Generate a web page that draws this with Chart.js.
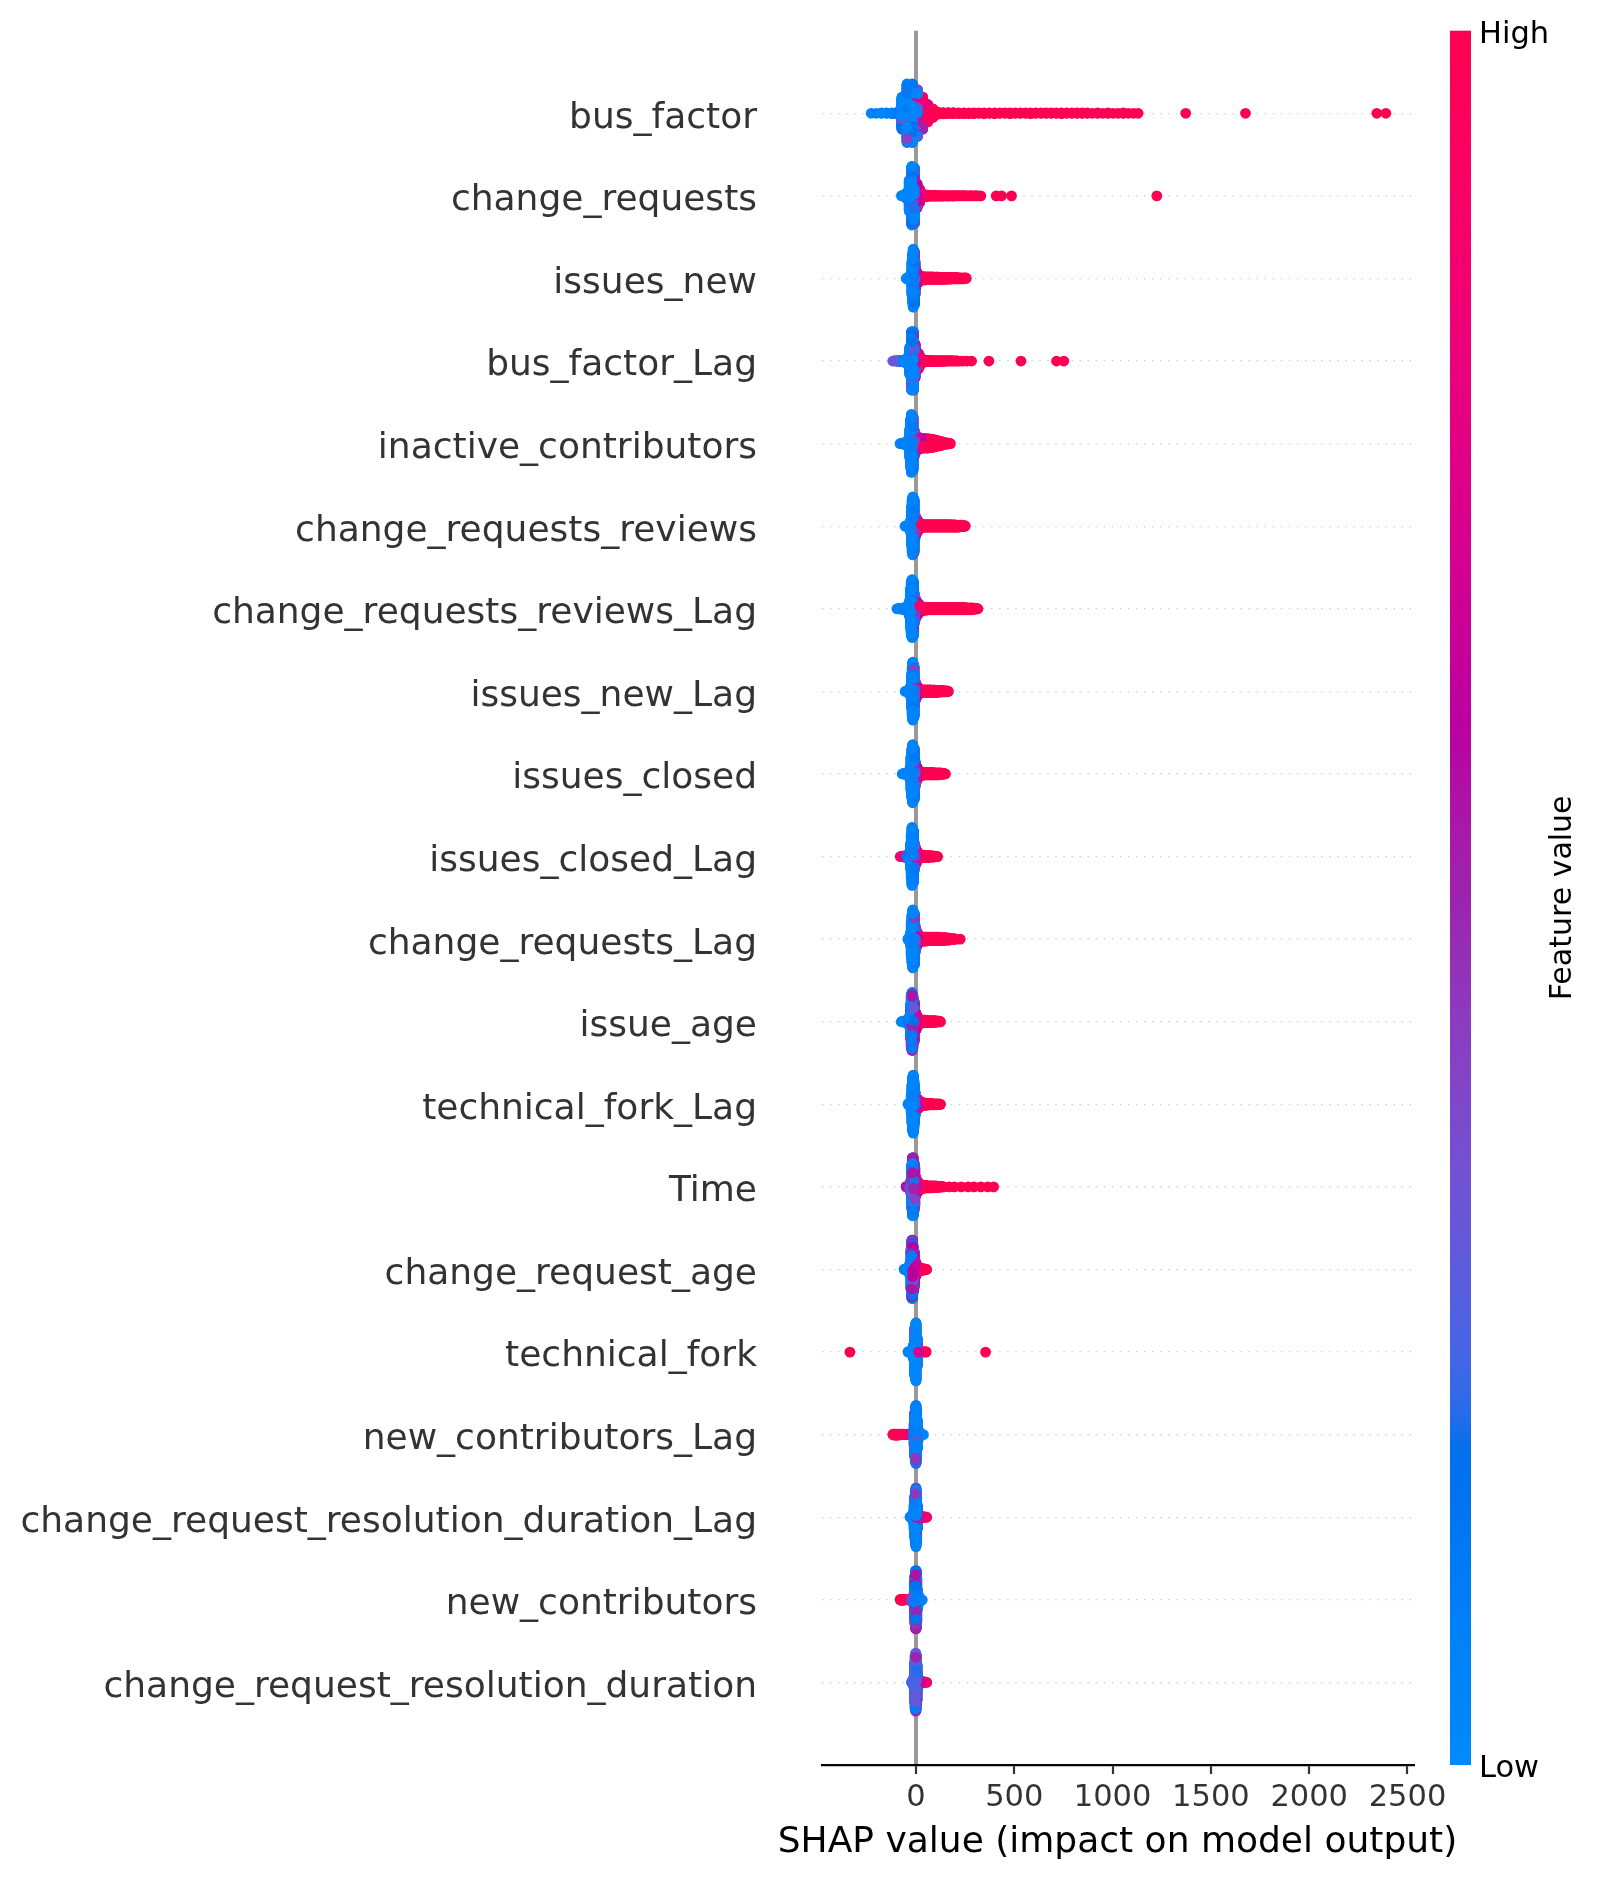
<!DOCTYPE html>
<html><head><meta charset="utf-8">
<script src="https://cdn.jsdelivr.net/npm/chart.js@4.4.1/dist/chart.umd.min.js"></script>
<style>html,body{margin:0;padding:0;background:#fff;}#wrap{width:1603px;height:1878px;}</style>
</head><body><div id="wrap"><canvas id="c" width="1603" height="1878"></canvas></div>
<script>
// ---------------- DATA ----------------
const features = ["bus_factor","change_requests","issues_new","bus_factor_Lag","inactive_contributors",
 "change_requests_reviews","change_requests_reviews_Lag","issues_new_Lag","issues_closed","issues_closed_Lag",
 "change_requests_Lag","issue_age","technical_fork_Lag","Time","change_request_age","technical_fork",
 "new_contributors_Lag","change_request_resolution_duration_Lag","new_contributors","change_request_resolution_duration"];
const xTicks = [0,500,1000,1500,2000,2500];
const xMin = -478, xMax = 2528;
const xTitle = "SHAP value (impact on model output)";
const cbarHigh = "High", cbarLow = "Low", cbarTitle = "Feature value";
// entries: [SHAP value, feature value (0 = low, 1 = high), number of samples]
const bus_factor = [[-228,0.05,1],[-202,0.08,1],[-176,0.05,2],[-150,0.1,2],[-123,0.06,3],[-97,0.1,6],
 [-71,0.03,70],[-71,0.15,30],[-71,0.35,10],[-45,0.02,120],[-45,0.12,60],[-45,0.4,20],
 [-19,0.03,110],[-19,0.15,60],[-19,0.45,30],[8,0.05,70],[8,0.3,40],[8,0.55,30],[8,0.75,20],
 [34,0.5,30],[34,0.7,40],[34,0.9,40],[60,0.75,20],[60,0.95,40],[86,0.9,10],[86,1,20],
 [112,1,8],[138,1,5],[164,1,4],[190,1,4],[217,1,3],[243,1,3],[269,1,3],[295,1,3],[321,1,2],[347,1,3],[374,1,2],
 [400,1,3],[426,1,2],[452,1,2],[478,1,3],[505,1,2],[531,1,2],[557,1,2],[583,1,3],[609,1,2],[636,1,2],[662,1,2],
 [688,1,2],[714,1,2],[740,1,3],[766,1,2],[793,1,2],[819,1,2],[845,1,2],[871,1,2],[897,1,1],[924,1,2],[950,1,1],
 [976,1,2],[1002,1,1],[1028,1,1],[1055,1,2],[1081,1,1],[1107,1,1],[1130,1,1],
 [1372,1,1],[1676,1,1],[2344,1,1],[2390,1,1]];
const change_requests = [[-73,0.05,2],[-60,0.05,6],[-47,0.05,20],[-34,0.03,80],[-34,0.2,20],
 [-21,0.03,120],[-21,0.15,50],[-21,0.4,20],[-8,0.05,100],[-8,0.2,50],[-8,0.5,30],
 [5,0.4,30],[5,0.6,30],[5,0.8,20],[18,0.7,20],[18,0.9,25],[31,0.95,15],[44,1,8],[57,1,5],[70,1,4],[83,1,3],
 [96,1,4],[109,1,3],[122,1,3],[135,1,3],[148,1,2],[161,1,3],[174,1,2],[187,1,3],[200,1,2],[213,1,2],[226,1,2],
 [239,1,2],[252,1,2],[265,1,1],[278,1,2],[291,1,1],[304,1,2],[317,1,1],[330,1,1],
 [408,1,1],[435,1,1],[486,1,1],[1225,1,1]];
const issues_new = [[-50,0.05,1],[-44,0.05,3],[-38,0.05,5],[-32,0.08,8],[-26,0.05,20],
 [-20,0.03,70],[-17,0.05,100],[-14,0.05,120],[-11,0.1,110],[-8,0.15,90],[-8,0.45,20],
 [-5,0.3,50],[-5,0.55,20],[-2,0.5,40],[1,0.6,30],[4,0.7,25],[8,0.75,20],[12,0.85,15],[16,0.9,12],
 [20,1,10],[26,1,9],[32,1,8],[40,1,7],[48,1,7],[56,1,6],[64,1,6],[72,1,6],[80,1,6],[90,1,6],[100,1,5],
 [110,1,6],[120,1,5],[130,1,5],[140,1,5],[150,1,5],[160,1,4],[170,1,5],[180,1,4],[190,1,4],[200,1,4],
 [210,1,4],[220,1,3],[230,1,3],[240,1,3],[250,1,2],[255,1,2]];
const bus_factor_Lag = [[-118,0.35,1],[-109,0.3,2],[-100,0.3,2],[-92,0.2,3],[-83,0.15,3],[-74,0.1,4],[-66,0.05,5],
 [-57,0.05,7],[-48,0.05,12],[-40,0.05,25],[-31,0.03,60],[-31,0.2,20],[-22,0.03,110],[-22,0.15,40],[-22,0.4,20],
 [-13,0.05,100],[-13,0.25,40],[-13,0.5,30],[-5,0.2,50],[-5,0.5,30],[-5,0.65,20],[4,0.45,25],[4,0.7,30],
 [13,0.75,25],[13,0.9,20],[22,0.9,15],[22,1,10],[30,1,10],[39,1,6],[48,1,5],[57,1,4],[65,1,4],[74,1,4],
 [83,1,3],[92,1,3],[100,1,3],[109,1,3],[118,1,3],[127,1,3],[135,1,2],[144,1,3],[153,1,2],[162,1,2],[170,1,2],
 [179,1,2],[188,1,2],[197,1,1],[205,1,2],[214,1,1],[225,1,1],[240,1,1],[260,1,1],[283,1,1],
 [371,1,1],[534,1,1],[715,1,1],[752,1,1]];
const inactive_contributors = [[-81,0.05,1],[-74,0.05,2],[-66,0.1,3],[-58,0.05,4],[-50,0.08,6],[-43,0.05,10],
 [-37,0.05,20],[-31,0.03,60],[-27,0.03,100],[-23,0.05,120],[-19,0.08,110],[-15,0.12,90],[-15,0.4,20],
 [-11,0.25,60],[-7,0.4,50],[-3,0.5,40],[2,0.55,30],[8,0.65,25],[14,0.7,22],[20,0.8,20],[27,0.6,10],[27,0.9,12],
 [35,0.95,20],[44,0.7,8],[44,1,12],[53,1,20],[62,0.8,6],[62,1,14],[72,1,18],[82,1,18],[92,1,16],[102,1,14],
 [112,1,12],[122,1,10],[132,1,8],[142,1,5],[152,1,4],[162,1,3],[170,1,2],[175,1,1]];
const change_requests_reviews = [[-56,0.05,1],[-50,0.05,2],[-44,0.05,3],[-38,0.08,5],[-32,0.05,10],[-27,0.05,25],
 [-22,0.03,80],[-19,0.03,110],[-16,0.05,120],[-13,0.08,110],[-10,0.12,90],[-10,0.45,20],[-7,0.3,60],
 [-4,0.45,45],[-1,0.55,35],[3,0.6,30],[7,0.7,25],[11,0.8,20],[16,0.9,15],[21,1,12],[27,1,8],[34,1,7],
 [42,1,6],[50,1,6],[58,1,6],[66,1,6],[74,1,6],[82,1,6],[90,1,6],[98,1,6],[106,1,6],[114,1,6],[122,1,6],
 [130,1,6],[138,1,6],[146,1,6],[154,1,6],[162,1,6],[170,1,6],[178,1,6],[186,1,5],[194,1,6],[202,1,5],
 [210,1,5],[218,1,5],[226,1,4],[234,1,4],[242,1,3],[250,1,2]];
const change_requests_reviews_Lag = [[-97,0.1,1],[-89,0.05,2],[-81,0.05,2],[-73,0.1,3],[-65,0.05,4],[-57,0.08,5],
 [-49,0.05,8],[-41,0.05,14],[-34,0.05,30],[-28,0.03,80],[-24,0.03,110],[-20,0.05,120],[-16,0.08,110],
 [-12,0.12,90],[-12,0.5,20],[-8,0.3,60],[-4,0.45,45],[0,0.55,35],[4,0.6,30],[9,0.7,25],[14,0.8,20],[19,0.9,15],
 [25,1,12],[32,1,9],[40,1,7],[50,1,7],[60,1,6],[70,1,6],[80,1,6],[90,1,6],[100,1,6],[110,1,6],[120,1,6],
 [130,1,6],[140,1,6],[150,1,6],[160,1,6],[170,1,6],[180,1,6],[190,1,6],[200,1,6],[210,1,6],[220,1,6],
 [230,1,6],[240,1,6],[250,1,6],[260,1,5],[270,1,5],[280,1,5],[290,1,4],[300,1,3],[310,1,2],[315,1,1]];
const issues_new_Lag = [[-55,0.05,1],[-48,0.05,2],[-42,0.05,3],[-36,0.08,5],[-30,0.05,10],[-26,0.05,25],
 [-22,0.03,70],[-19,0.03,100],[-16,0.05,120],[-13,0.08,110],[-10,0.12,90],[-10,0.4,15],[-7,0.3,60],
 [-4,0.45,40],[-1,0.55,30],[3,0.6,25],[7,0.7,20],[11,0.8,15],[15,0.9,12],[20,1,9],[27,1,7],[34,1,6],
 [42,1,6],[50,1,6],[58,1,6],[66,1,6],[74,1,6],[82,1,5],[90,1,6],[98,1,5],[106,1,5],[114,1,5],[122,1,4],
 [130,1,4],[138,1,4],[146,1,3],[154,1,3],[160,1,2],[165,1,1]];
const issues_closed = [[-70,0.05,1],[-63,0.05,2],[-56,0.08,3],[-49,0.05,4],[-42,0.05,6],[-36,0.05,10],[-30,0.05,25],
 [-25,0.03,70],[-21,0.03,100],[-17,0.05,120],[-13,0.08,110],[-9,0.12,90],[-9,0.45,15],[-5,0.3,55],
 [-1,0.45,40],[3,0.55,30],[7,0.65,24],[11,0.75,18],[15,0.85,14],[20,0.95,10],[26,1,8],[33,1,7],[40,1,6],
 [48,1,6],[56,1,6],[64,1,6],[72,1,6],[80,1,6],[88,1,6],[96,1,5],[104,1,5],[112,1,5],[120,1,4],[128,1,4],
 [136,1,3],[144,1,2],[150,1,1]];
const issues_closed_Lag = [[-80,0.95,1],[-74,0.9,2],[-68,0.8,2],[-62,0.6,3],[-55,0.4,4],[-48,0.2,5],[-41,0.1,8],
 [-34,0.05,15],[-28,0.03,50],[-24,0.03,90],[-20,0.05,120],[-16,0.08,110],[-12,0.12,90],[-12,0.45,15],
 [-8,0.3,55],[-4,0.45,40],[0,0.55,30],[4,0.65,24],[8,0.75,18],[12,0.85,14],[17,0.95,10],[23,1,7],[30,1,6],
 [37,1,6],[44,1,6],[51,1,5],[58,1,5],[65,1,5],[72,1,4],[79,1,4],[86,1,3],[93,1,3],[100,1,2],[107,1,1],[110,1,1]];
const change_requests_Lag = [[-40,0.05,3],[-33,0.05,8],[-28,0.05,25],[-24,0.03,70],[-20,0.03,100],[-16,0.05,120],
 [-12,0.08,110],[-8,0.12,90],[-8,0.45,15],[-4,0.3,55],[0,0.45,40],[4,0.55,30],[8,0.65,24],[12,0.75,18],
 [16,0.85,14],[21,0.95,12],[27,1,10],[34,1,9],[41,1,9],[48,1,9],[55,1,8],[62,1,8],[69,1,8],[76,1,8],[83,1,8],
 [90,1,8],[97,1,8],[104,1,8],[111,1,8],[118,1,8],[125,1,7],[132,1,7],[139,1,7],[146,1,6],[153,1,6],
 [160,1,5],[167,1,5],[174,1,4],[181,1,3],[188,1,3],[195,1,2],[205,1,1],[225,1,1]];
const issue_age = [[-75,0.05,1],[-68,0.05,2],[-61,0.05,3],[-54,0.08,4],[-47,0.05,6],[-40,0.1,10],[-34,0.05,20],
 [-28,0.05,50],[-28,0.5,20],[-24,0.05,70],[-24,0.45,40],[-20,0.1,70],[-20,0.55,50],[-16,0.15,60],[-16,0.5,50],
 [-12,0.3,50],[-12,0.6,40],[-8,0.45,50],[-8,0.65,30],[-4,0.55,40],[0,0.6,35],[4,0.7,25],[8,0.8,20],[13,0.9,14],
 [18,1,10],[24,1,8],[30,1,7],[37,1,6],[44,1,6],[51,1,6],[58,1,5],[65,1,5],[72,1,5],[79,1,5],[86,1,4],
 [93,1,4],[100,1,4],[107,1,3],[114,1,2],[120,1,2],[125,1,1]];
const technical_fork_Lag = [[-40,0.05,2],[-34,0.05,4],[-28,0.05,10],[-24,0.03,40],[-20,0.03,80],[-17,0.03,110],
 [-14,0.05,120],[-11,0.08,100],[-8,0.1,80],[-5,0.2,50],[-2,0.4,30],[2,0.5,25],[6,0.6,22],[10,0.7,20],
 [15,0.75,15],[20,0.8,12],[26,0.85,10],[33,0.9,8],[40,1,6],[48,1,5],[56,1,5],[64,1,4],[72,1,4],[80,1,4],
 [88,1,3],[96,1,3],[104,1,3],[112,1,2],[120,1,2],[125,1,1]];
const Time = [[-50,0.5,2],[-44,0.55,3],[-38,0.45,5],[-32,0.4,10],[-27,0.3,25],[-22,0.05,60],[-22,0.5,30],
 [-18,0.05,80],[-18,0.55,40],[-14,0.1,80],[-14,0.5,40],[-10,0.2,60],[-10,0.6,40],[-6,0.4,50],[-6,0.65,30],
 [-2,0.55,40],[2,0.65,30],[7,0.75,25],[12,0.85,18],[18,0.9,14],[24,1,10],[30,1,8],[38,1,7],[46,1,6],
 [54,1,6],[62,1,5],[70,1,5],[78,1,5],[86,1,4],[94,1,4],[102,1,4],[110,1,3],[118,1,3],[126,1,2],[134,1,2],
 [142,1,1],[170,1,1],[195,1,1],[230,1,1],[265,1,1],[295,1,1],[330,1,1],[365,1,1],[395,1,1]];
const change_request_age = [[-60,0.05,2],[-54,0.1,3],[-48,0.05,4],[-42,0.05,8],[-36,0.1,15],[-30,0.05,30],
 [-25,0.05,60],[-25,0.5,30],[-21,0.1,80],[-21,0.55,50],[-17,0.15,80],[-17,0.6,50],[-13,0.3,60],[-13,0.65,40],
 [-9,0.5,50],[-9,0.7,30],[-5,0.6,40],[-1,0.7,30],[3,0.8,20],[8,0.85,15],[14,0.9,10],[20,1,8],[26,1,6],
 [32,1,5],[38,1,4],[44,1,3],[50,1,2],[55,1,1]];
const technical_fork = [[-336,1,1],[-40,0.05,2],[-30,0.05,4],[-20,0.05,10],[-14,0.05,30],[-7,0.03,100],
 [-7,0.4,10],[0,0.03,120],[0,0.35,15],[0,1,3],[7,0.05,50],[7,0.6,15],[14,0.7,8],[21,0.9,4],[30,1,2],
 [40,1,2],[51,1,2],[354,1,1]];
const new_contributors_Lag = [[-117,1,2],[-110,1,3],[-103,1,3],[-96,1,3],[-89,1,3],[-82,1,2],[-74,0.95,2],
 [-66,0.9,2],[-58,0.95,1],[-48,0.8,2],[-38,0.6,2],[-28,0.4,3],[-20,0.3,5],[-14,0.2,10],[-9,0.05,40],
 [-9,0.45,15],[-6,0.05,80],[-6,0.5,25],[-3,0.05,110],[-3,0.45,20],[0,0.08,120],[0,0.5,20],[3,0.08,100],
 [3,0.4,15],[6,0.05,70],[10,0.05,30],[15,0.05,12],[22,0.05,5],[30,0.05,2],[38,0.05,1]];
const change_request_resolution_duration_Lag = [[-30,0.05,2],[-24,0.05,4],[-18,0.05,10],[-13,0.05,25],
 [-9,0.05,60],[-6,0.05,100],[-3,0.05,110],[-3,0.45,20],[0,0.05,120],[0,0.5,20],[0,1,3],[3,0.08,100],
 [3,0.55,20],[6,0.1,60],[9,0.5,20],[13,0.65,12],[18,0.75,8],[24,0.8,5],[30,0.85,4],[38,0.9,3],[46,0.9,2],[55,0.9,1]];
const new_contributors = [[-80,1,2],[-74,1,3],[-68,1,3],[-62,0.95,2],[-55,0.9,1],[-45,0.7,2],[-35,0.5,2],
 [-26,0.4,4],[-18,0.35,8],[-12,0.3,20],[-8,0.1,40],[-8,0.5,30],[-5,0.1,60],[-5,0.45,40],[-2,0.15,70],
 [-2,0.55,50],[1,0.1,70],[1,0.5,50],[4,0.1,60],[4,0.4,30],[8,0.05,40],[12,0.05,20],[18,0.05,8],[25,0.05,3],[32,0.05,1]];
const change_request_resolution_duration = [[-22,0.2,2],[-16,0.25,6],[-11,0.25,20],[-7,0.25,60],[-7,0.05,20],
 [-4,0.3,80],[-4,0.1,30],[-1,0.3,90],[-1,0.5,30],[2,0.25,80],[2,0.55,30],[5,0.2,60],[5,0.6,15],[8,0.1,30],
 [12,0.5,15],[17,0.65,10],[23,0.7,6],[30,0.75,4],[38,0.8,3],[46,0.85,2],[55,0.85,1]];
const rowData = [bus_factor,change_requests,issues_new,bus_factor_Lag,inactive_contributors,change_requests_reviews,
 change_requests_reviews_Lag,issues_new_Lag,issues_closed,issues_closed_Lag,change_requests_Lag,issue_age,
 technical_fork_Lag,Time,change_request_age,technical_fork,new_contributors_Lag,
 change_request_resolution_duration_Lag,new_contributors,change_request_resolution_duration];

// ---------------- colour map (SHAP red_blue, LCH interpolation) ----------------
function lch2rgb(L, C, h) {
  const a = C * Math.cos(h), b = C * Math.sin(h);
  const fy = (L + 16) / 116, fx = fy + a / 500, fz = Math.max(fy - b / 200, 0);
  const finv = t => t > 0.2068966 ? t * t * t : (t - 16 / 116) / 7.787;
  const X = 0.95047 * finv(fx), Y = finv(fy), Z = 1.08883 * finv(fz);
  let r = 3.24048134 * X - 1.53715152 * Y - 0.49853633 * Z;
  let g = -0.96925495 * X + 1.8759675 * Y + 0.04155593 * Z;
  let bl = 0.05564664 * X - 0.20404134 * Y + 1.05731107 * Z;
  const gam = c => { c = c > 0.0031308 ? 1.055 * Math.pow(c, 1 / 2.4) - 0.055 : 12.92 * c; return Math.min(1, Math.max(0, c)); };
  return [gam(r), gam(g), gam(bl)];
}
const cmapSteps = (() => {
  const n = 100, out = [];
  for (let i = 0; i < n; i++) {
    const L = i < 50 ? 54 + (40 - 54) * i / 49 : 40 + (54 - 40) * (i - 50) / 49;
    const C = 70 + (90 - 70) * i / (n - 1);
    const h = 4.6588 + ((0.35470565 + 2 * Math.PI) - 4.6588) * i / (n - 1);
    out.push(lch2rgb(L, C, h));
  }
  return out;
})();
function cmap(v) {
  v = Math.min(1, Math.max(0, v));
  const p = v * 99, i = Math.min(98, Math.floor(p)), t = p - i;
  const a = cmapSteps[i], b = cmapSteps[i + 1];
  const c = [0, 1, 2].map(k => Math.round(255 * (a[k] + (b[k] - a[k]) * t)));
  return `rgb(${c[0]},${c[1]},${c[2]})`;
}

// ---------------- beeswarm layout (as in shap.summary_plot) ----------------
const nbins = 100, rowHeight = 0.4;
const hash = i => (Math.imul(i + 7, 2654435761) >>> 0);
const pts = [];
rowData.forEach((entries, r) => {
  const pos = rowData.length - 1 - r;
  const xs = [], fs = [];
  entries.forEach(([x, f, n]) => { for (let k = 0; k < n; k++) { xs.push(x); fs.push(f); } });
  const N = xs.length;
  const mn = Math.min(...xs), mx = Math.max(...xs);
  const quant = xs.map(x => Math.round(nbins * (x - mn) / (mx - mn + 1e-8)));
  const inds = xs.map((_, i) => i).sort((a, b) => (quant[a] - quant[b]) || (hash(a) - hash(b)));
  const ys = new Array(N).fill(0);
  let layer = 0, last = -1;
  for (const ind of inds) {
    if (quant[ind] !== last) layer = 0;
    ys[ind] = Math.ceil(layer / 2) * ((layer % 2) * 2 - 1);
    layer += 1; last = quant[ind];
  }
  const m = Math.max(...ys.map(y => y + 1));
  const sc = 0.9 * (rowHeight / m);
  const order = xs.map((_, i) => i).sort((a, b) => hash(a * 31 + 5) - hash(b * 31 + 5));
  for (const i of order) pts.push({ x: xs[i], y: pos + ys[i] * sc, c: cmap(fs[i]) });
});

// ---------------- colour bar + x title ----------------
const extras = {
  id: 'extras',
  afterDraw(chart) {
    const { ctx, chartArea: { top, bottom, left, right } } = chart;
    const x0 = right + 37, w = 21;
    const g = ctx.createLinearGradient(0, bottom, 0, top);
    for (let i = 0; i <= 60; i++) g.addColorStop(i / 60, cmap(i / 60));
    ctx.save();
    ctx.fillStyle = g;
    ctx.fillRect(x0, top, w, bottom - top);
    ctx.fillStyle = '#000';
    ctx.font = '30.5px "DejaVu Sans"';
    ctx.textAlign = 'left'; ctx.textBaseline = 'alphabetic';
    ctx.fillText(cbarHigh, x0 + w + 8, top + 12.5);
    ctx.fillText(cbarLow, x0 + w + 8, bottom + 12);
    // x axis title (drawn here so it is not squeezed to the axis width)
    ctx.font = '36px "DejaVu Sans"';
    ctx.textAlign = 'center';
    ctx.fillText(xTitle, (left + right) / 2, 1852);
    ctx.font = '30px "DejaVu Sans"';
    ctx.translate(1563, (top + bottom) / 2);
    ctx.rotate(-Math.PI / 2);
    ctx.textAlign = 'center'; ctx.textBaseline = 'middle';
    ctx.fillText(cbarTitle, 0, 0);
    ctx.restore();
  }
};

Chart.defaults.font.family = '"DejaVu Sans"';
new Chart(document.getElementById('c'), {
  type: 'scatter',
  data: { datasets: [{ data: pts, pointRadius: 5.4, pointHoverRadius: 5.4, pointBorderWidth: 0,
    pointBackgroundColor: pts.map(p => p.c), pointBorderColor: 'rgba(0,0,0,0)' }] },
  plugins: [extras],
  options: {
    responsive: false, animation: false, events: [],
    layout: { padding: { top: 30.7, right: 190, bottom: 0, left: 0 } },
    plugins: { legend: { display: false }, tooltip: { enabled: false } },
    scales: {
      x: {
        type: 'linear', min: xMin, max: xMax,
        afterBuildTicks: a => { a.ticks = xTicks.map(v => ({ value: v })); },
        afterFit: a => { a.height = 113; },
        ticks: { callback: v => String(v), color: '#333333', font: { size: 30.5 }, padding: 6, maxRotation: 0, autoSkip: false },
        grid: { color: c => (c.tick && c.tick.value === 0) ? '#999999' : 'rgba(0,0,0,0)', lineWidth: 4,
                drawTicks: true, tickLength: 9, tickWidth: 2.2, tickColor: '#333333' },
        border: { display: true, color: '#000000', width: 2.2 },
        title: { display: false }
      },
      y: {
        type: 'linear', min: -1, max: 20,
        afterBuildTicks: a => { a.ticks = features.map((_, i) => ({ value: i })); },
        afterFit: a => { a.width = 822; a.paddingTop = 0; a.paddingBottom = 0; },
        ticks: { callback: v => features[features.length - 1 - v], color: '#333333', font: { size: 36 }, padding: 0,
                 autoSkip: false, labelOffset: 5 },
        grid: { color: '#cccccc', lineWidth: 1.35, drawTicks: true, tickLength: 65, tickColor: 'rgba(0,0,0,0)' },
        border: { display: false, dash: [1.35, 6.7] }
      }
    }
  }
});
</script></body></html>
